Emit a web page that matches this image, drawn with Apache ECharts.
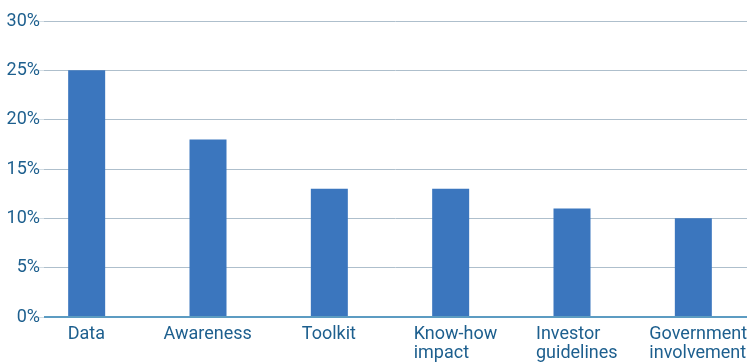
<!DOCTYPE html>
<html>
<head>
<meta charset="utf-8">
<script src="https://cdn.jsdelivr.net/npm/echarts@6/dist/echarts.min.js"></script>
<style>
  html, body { margin: 0; padding: 0; background: #ffffff; overflow: hidden; }
  /* the plot runs a few pixels past the right edge of the window */
  #chart { width: 754px; height: 364px; }
</style>
</head>
<body>
<div id="chart"></div>
<script>
// Share of responses per category (%)
const categories = ['Data', 'Awareness', 'Toolkit', 'Know-how\nimpact', 'Investor\nguidelines', 'Government\ninvolvement'];
const shares = [25, 18, 13, 13, 11, 10];
const yTicks = [0, 5, 10, 15, 20, 25, 30];

const textColor = '#1d5f8e';
const barColor = '#3b76be';
const gridColor = '#aebfcc';
const labelFont = 'Roboto';
const labelSize = 18;
const wrapShift = 5; // wrapped labels sit slightly right of the bar centre
const yMin = yTicks[0];
const yMax = yTicks[yTicks.length - 1];
const yStep = yTicks[1] - yTicks[0];

// Multi-line category labels: block centred under the bar, lines left-aligned.
const measureCtx = document.createElement('canvas').getContext('2d');
measureCtx.font = labelSize + 'px ' + labelFont;
const rich = {};
const labelFormatter = (value, idx) => {
  const lines = String(value).split('\n');
  const w = Math.ceil(Math.max(...lines.map(l => measureCtx.measureText(l).width)));
  const key = 'c' + idx;
  const pad = lines.length > 1 ? 2 * wrapShift : 0;
  rich[key] = {
    width: w, align: 'left', padding: [0, 0, 0, pad],
    color: textColor, fontFamily: labelFont, fontSize: labelSize, lineHeight: 19
  };
  return lines.map(l => '{' + key + '|' + l + '}').join('\n');
};
categories.forEach((c, i) => labelFormatter(c, i));

const chart = echarts.init(document.getElementById('chart'), null, { renderer: 'canvas' });

chart.setOption({
  animation: false,
  backgroundColor: '#ffffff',
  grid: [
    // bars and category labels
    { left: 26, right: 0, top: 21, bottom: 47, containLabel: false },
    // value scale with gridlines
    { left: 44, right: 7, top: 21, bottom: 47, containLabel: false }
  ],
  xAxis: [
    {
      type: 'category',
      gridIndex: 0,
      data: categories,
      axisLine: { show: false },
      axisTick: { show: false },
      axisLabel: {
        color: textColor,
        fontFamily: labelFont,
        fontSize: labelSize,
        lineHeight: 19,
        margin: 8,
        interval: 0,
        align: 'center',
        formatter: labelFormatter,
        rich: rich
      }
    },
    {
      type: 'value',
      gridIndex: 1,
      show: false
    }
  ],
  yAxis: [
    {
      type: 'value',
      gridIndex: 0,
      min: yMin,
      max: yMax,
      interval: yStep,
      show: false
    },
    {
      type: 'value',
      gridIndex: 1,
      min: yMin,
      max: yMax,
      interval: yStep,
      axisLine: { show: false },
      axisTick: { show: true, length: 10, lineStyle: { color: '#d3dde4', width: 1 } },
      axisLabel: {
        color: textColor,
        fontFamily: labelFont,
        fontSize: labelSize,
        margin: 4,
        formatter: '{value}%'
      },
      splitLine: {
        show: true,
        lineStyle: { color: gridColor, width: 1 }
      }
    }
  ],
  series: [
    {
      type: 'bar',
      xAxisIndex: 0,
      yAxisIndex: 0,
      data: shares,
      barWidth: 37,
      itemStyle: { color: barColor },
      z: 3
    },
    {
      // baseline at 0%
      type: 'line',
      xAxisIndex: 1,
      yAxisIndex: 1,
      data: [],
      markLine: {
        silent: true,
        symbol: 'none',
        label: { show: false },
        lineStyle: { color: '#5c9cc2', width: 2, type: 'solid' },
        data: [{ yAxis: 0 }]
      },
      z: 4
    }
  ]
});
</script>
</body>
</html>
